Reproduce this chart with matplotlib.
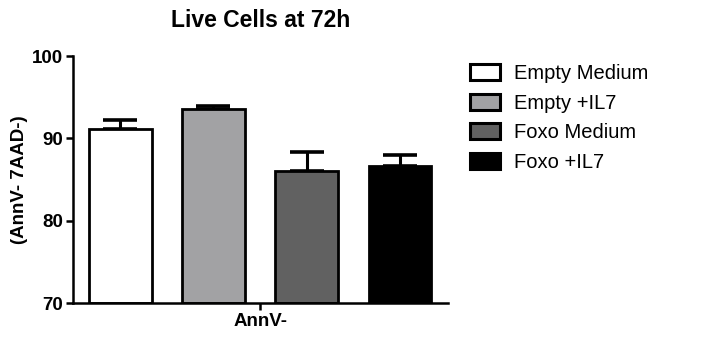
import matplotlib
matplotlib.use("Agg")
import matplotlib.pyplot as plt
from matplotlib.patches import Patch

plt.rcParams['font.family'] = ['Liberation Sans', 'DejaVu Sans']

groups = ["Empty Medium", "Empty +IL7", "Foxo Medium", "Foxo +IL7"]
means = [91.2, 93.6, 86.0, 86.6]
errors = [1.0, 0.3, 2.3, 1.4]
colors = ["#ffffff", "#a2a2a4", "#616161", "#000000"]
category = ["AnnV-"]
yticks = [70, 80, 90, 100]

fig = plt.figure(figsize=(7.25, 3.42), dpi=100)
ax = fig.add_axes([0.1007, 0.114, 0.5173, 0.722])

x = list(range(len(groups)))
ax.bar(x, [m - 70 for m in means], bottom=70, width=0.675, color=colors,
       edgecolor="black", linewidth=2.0, zorder=2)
ax.errorbar(x, means, yerr=[[0] * len(errors), errors], fmt="none",
            ecolor="black", elinewidth=2.2, capsize=12.5, capthick=2.6, zorder=1)

ax.set_xlim(-0.505, 3.515)
ax.set_ylim(70, 100)
ax.set_yticks(yticks)
ax.set_yticklabels([str(t) for t in yticks], fontweight="bold", fontsize=13.5)
ax.set_xticks([1.5])
ax.set_xticklabels(category, fontweight="bold", fontsize=13.5)
ax.set_ylabel("(AnnV- 7AAD-)", fontweight="bold", fontsize=13.5, labelpad=3)
ax.set_title("Live Cells at 72h", fontweight="bold", fontsize=16.5, pad=21)

for s in ["top", "right"]:
    ax.spines[s].set_visible(False)
for s in ["left", "bottom"]:
    ax.spines[s].set_linewidth(1.8)
ax.tick_params(axis="both", width=1.8, length=5, color="black", pad=2)

handles = [Patch(facecolor=c, edgecolor="black", linewidth=2.2) for c in colors]
fig.legend(handles, groups, loc="upper left", bbox_to_anchor=(0.623, 0.865),
           frameon=False, fontsize=14.5, handlelength=1.5, handleheight=0.85,
           labelspacing=0.52, handletextpad=0.7)

fig.savefig("out.png", dpi=100)
